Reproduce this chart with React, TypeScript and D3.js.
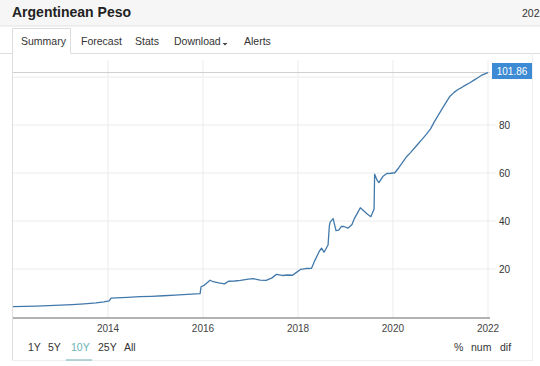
import * as d3 from "d3";

const dates = [
  "2012-01-01", "2012-04-01", "2012-07-01", "2012-10-01", "2013-01-01", "2013-04-01",
  "2013-07-01", "2013-10-01", "2013-12-01", "2014-01-10", "2014-01-24", "2014-03-01",
  "2014-06-01", "2014-09-01", "2014-12-01", "2015-03-01", "2015-06-01", "2015-09-01",
  "2015-12-10", "2015-12-17", "2016-01-10", "2016-02-25", "2016-03-20", "2016-05-01",
  "2016-06-15", "2016-07-15", "2016-09-01", "2016-10-15", "2016-12-15", "2017-01-20",
  "2017-03-15", "2017-05-01", "2017-06-15", "2017-07-20", "2017-09-01", "2017-10-15",
  "2017-11-20", "2017-12-20", "2018-01-20", "2018-03-01", "2018-04-15", "2018-05-10",
  "2018-06-15", "2018-07-01", "2018-07-20", "2018-08-20", "2018-08-30", "2018-09-05",
  "2018-09-28", "2018-10-20", "2018-11-10", "2018-12-01", "2018-12-20", "2019-01-20",
  "2019-02-20", "2019-03-10", "2019-04-05", "2019-04-25", "2019-05-10", "2019-06-15",
  "2019-07-15", "2019-08-09", "2019-08-13", "2019-09-01", "2019-09-15", "2019-10-15",
  "2019-11-15", "2019-12-15", "2020-01-15", "2020-02-15", "2020-03-15", "2020-04-15",
  "2020-05-15", "2020-06-15", "2020-07-15", "2020-08-15", "2020-09-15", "2020-10-15",
  "2020-11-15", "2020-12-15", "2021-01-15", "2021-02-15", "2021-03-15", "2021-04-15",
  "2021-05-15", "2021-06-15", "2021-07-15", "2021-08-15", "2021-09-15", "2021-10-15",
  "2021-11-15", "2021-12-31",
];

const values = [
  4.3, 4.4, 4.55, 4.72, 4.95, 5.15,
  5.45, 5.85, 6.3, 6.75, 7.85, 7.95,
  8.15, 8.45, 8.6, 8.85, 9.1, 9.4,
  9.75, 12.6, 13.2, 15.3, 14.7, 14.2,
  13.8, 14.9, 15.0, 15.3, 15.8, 16.0,
  15.4, 15.3, 16.3, 17.8, 17.3, 17.5,
  17.4, 18.6, 19.8, 20.2, 20.3, 23.5,
  27.5, 28.7, 27.0, 30.0, 38.0, 39.5,
  41.0, 36.0, 36.2, 37.8, 37.7, 37.0,
  38.5, 41.0, 43.5, 45.5, 44.8, 43.0,
  41.8, 45.0, 59.5, 57.0, 56.0, 58.5,
  59.8, 59.9, 60.1, 62.2, 64.4, 66.8,
  68.5, 70.4, 72.3, 74.2, 76.2, 78.3,
  81.4, 84.1, 86.9, 89.6, 92.0, 93.6,
  94.8, 95.7, 96.7, 97.6, 98.7, 99.7,
  100.8, 101.86,
];

const xTicks = ["2014-01-01", "2016-01-01", "2018-01-01", "2020-01-01", "2022-01-01"];
const yTicks = [20, 40, 60, 80, 100];
const lastValue = 101.86;

const tabs = ["Summary", "Forecast", "Stats", "Download", "Alerts"];
const tabX = [21, 81, 135, 174, 244];
const ranges = ["1Y", "5Y", "10Y", "25Y", "All"];
const rangeX = [28, 48, 71, 98, 124];
const modes = ["%", "num", "dif"];
const modeX = [454, 471, 500];

const parse = d3.timeParse("%Y-%m-%d");
const data = dates.map((d, i) => ({ date: parse(d) as Date, value: values[i] }));

export default function App() {
  const x = d3.scaleTime()
    .domain([parse("2012-01-01") as Date, parse("2022-01-01") as Date])
    .range([13, 488]);
  const y = d3.scaleLinear().domain([0, 100]).range([317, 77]);

  const line = d3.line<{ date: Date; value: number }>()
    .x(d => x(d.date))
    .y(d => y(d.value));

  const font = "'Liberation Sans', Arial, sans-serif";

  return (
    <svg width={540} height={366} style={{ position: "absolute", left: 0, top: 0, fontFamily: font }}>
      <rect x={0} y={0} width={540} height={366} fill="#ffffff" />
      {/* header */}
      <rect x={0} y={0} width={540} height={26} fill="#f6f6f6" />
      <line x1={0} x2={540} y1={26} y2={26} stroke="#e3e3e3" />
      <text x={12} y={17} fontSize={14} fontWeight="bold" fill="#222">Argentinean Peso</text>
      <text x={522} y={17} fontSize={10.5} fill="#333">2022</text>

      {/* tabs */}
      <line x1={0} x2={12} y1={53.5} y2={53.5} stroke="#dddddd" />
      <line x1={70.5} x2={540} y1={53.5} y2={53.5} stroke="#dddddd" />
      <path d="M12.5,360 V28.5 H70.5 V53.5" fill="none" stroke="#dddddd" />
      {tabs.map((t, i) => (
        <text key={t} x={tabX[i]} y={45} fontSize={10.5} fill="#333">{t}</text>
      ))}
      <path d="M222.5,43 l2.5,2.5 l2.5,-2.5 z" fill="#444" />

      {/* panel borders */}
      <line x1={532.5} x2={532.5} y1={53.5} y2={360} stroke="#eeeeee" />
      <line x1={12} x2={533} y1={360.5} y2={360.5} stroke="#eeeeee" />

      {/* grid */}
      {xTicks.map(t => (
        <line key={t} x1={x(parse(t) as Date)} x2={x(parse(t) as Date)} y1={60} y2={318} stroke="#ececec" />
      ))}
      {yTicks.map(t => (
        <line key={t} x1={13} x2={496} y1={y(t)} y2={y(t)} stroke="#ececec" />
      ))}
      <line x1={13} x2={490} y1={y(lastValue)} y2={y(lastValue)} stroke="#cfcfcf" />

      {/* axis */}
      <line x1={13} x2={490} y1={318} y2={318} stroke="#666" />
      {xTicks.map(t => (
        <text key={t} x={x(parse(t) as Date)} y={332} fontSize={10} fill="#444" textAnchor="middle">
          {d3.timeFormat("%Y")(parse(t) as Date)}
        </text>
      ))}
      {yTicks.slice(0, 4).map(t => (
        <text key={t} x={499} y={y(t) + 4} fontSize={10} fill="#333">{t}</text>
      ))}

      {/* series */}
      <path d={line(data) || ""} fill="none" stroke="#4279ab" strokeWidth={1.3} strokeLinejoin="round" />

      {/* last value label */}
      <rect x={492} y={63} width={40} height={16} fill="#3d8bd4" />
      <text x={512} y={74.5} fontSize={10} fill="#fff" textAnchor="middle">{lastValue}</text>

      {/* footer buttons */}
      {ranges.map((r, i) => (
        <text key={r} x={rangeX[i]} y={351} fontSize={10.5} fill={r === "10Y" ? "#6ab3b5" : "#333"}>{r}</text>
      ))}
      <line x1={66} x2={92} y1={360} y2={360} stroke="#9cc9cb" strokeWidth={1.5} />
      {modes.map((m, i) => (
        <text key={m} x={modeX[i]} y={351} fontSize={10.5} fill="#333">{m}</text>
      ))}
    </svg>
  );
}
